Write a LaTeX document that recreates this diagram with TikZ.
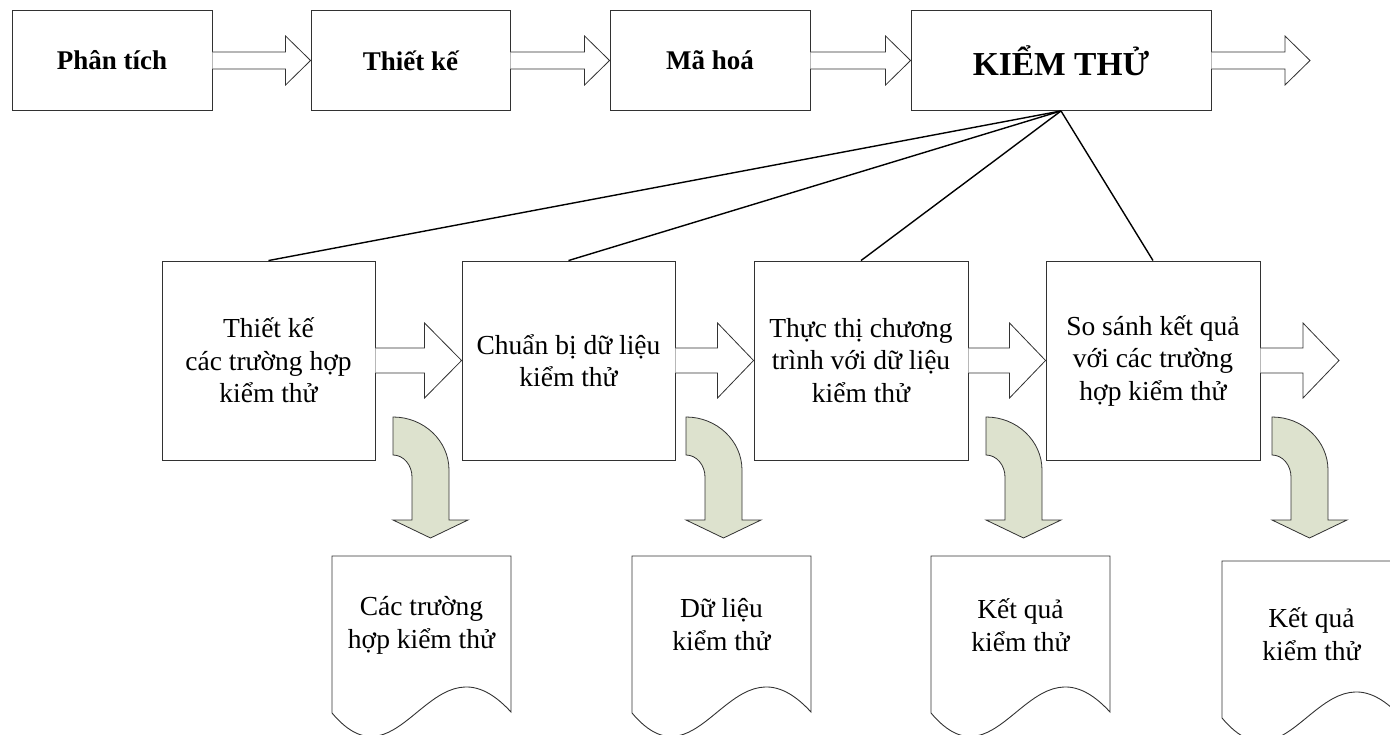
\documentclass[tikz,border=0pt]{standalone}
\usepackage{fontspec}
\setmainfont{Liberation Serif}
\usetikzlibrary{calc}
\definecolor{bendfill}{RGB}{221,226,206}
\definecolor{edge}{RGB}{50,50,50}
\tikzset{
  stage/.style={draw=edge, line width=0.9pt, minimum width=200pt, minimum height=100pt,
    inner sep=0pt, font=\bfseries\fontsize{27}{31}\selectfont},
  task/.style={draw=edge, line width=0.9pt, minimum width=213pt, minimum height=199pt,
    inner sep=0pt, align=center, font=\fontsize{27.5}{32.5}\selectfont},
  fat/.style={draw=edge, line width=0.8pt, fill=white, line join=miter},
  bendarrow/.style={draw=edge, line width=0.8pt, fill=bendfill},
  docshape/.style={draw=edge, line width=0.9pt, fill=white},
  doctext/.style={align=center, inner sep=0pt, font=\fontsize{27.5}{33}\selectfont},
  link/.style={line width=1.4pt, black},
}
% wide outlined arrow from the east side of #1 to the west side of #2
% #3 half shaft height, #4 half head height, #5 head length
\newcommand\fatarrow[5]{%
  \draw[fat] let \p1=(#1.east), \p2=(#2) in
    (\x1,\y1+#3) -- (\x2-#5,\y1+#3) -- (\x2-#5,\y1+#4) -- (\x2,\y1)
    -- (\x2-#5,\y1-#4) -- (\x2-#5,\y1-#3) -- (\x1,\y1-#3);}
% bent arrow turning downwards, top left corner of its tail at #1
\newcommand\downbend[1]{%
  \begin{scope}[shift={(#1)}]
    \draw[bendarrow] (0,0) .. controls (31,0) and (56,24) .. (56,53)
      -- (56,103) -- (75,103) -- (37.5,121) -- (0,103) -- (19,103) -- (19,60)
      .. controls (19,48) and (10.5,38) .. (0,38) -- cycle;
  \end{scope}}
% document sheet with a wavy lower edge, top left corner at #1
\newcommand\docsheet[1]{%
  \begin{scope}[shift={(#1)}]
    \draw[docshape] (0,157) -- (0,0) -- (179,0) -- (179,156)
      .. controls (100,70) and (70,240) .. (0,157);
  \end{scope}}

\begin{document}
\begin{tikzpicture}[x=1pt,y=-1pt]
  \useasboundingbox (0,0) rectangle (1390,735);
  \clip (0,0) rectangle (1390,735);

  % phases of development
  \node[stage] (s1) at (112,60.5) {Phân tích};
  \node[stage, minimum width=199pt] (s2) at (410.5,60.5) {Thiết kế};
  \node[stage] (s3) at (710,60.5) {Mã hoá};
  \node[stage, minimum width=300pt, font=\bfseries\fontsize{33.5}{38}\selectfont] (s4) at (1061,60.5) {KIỂM THỬ};
  \coordinate (s4out) at (1310,60.5);

  \fatarrow{s1}{s2.west}{8.5}{24.5}{25}
  \fatarrow{s2}{s3.west}{8.5}{24.5}{25}
  \fatarrow{s3}{s4.west}{8.5}{24.5}{25}
  \fatarrow{s4}{s4out}{8.5}{24.5}{25}

  % testing steps
  \node[task] (t1) at (268.5,360.5) {Thiết kế\\các trường hợp\\kiểm thử};
  \node[task] (t2) at (568.5,360.5) {Chuẩn bị dữ liệu\\kiểm thử};
  \node[task, minimum width=214pt] (t3) at (861,360.5) {Thực thị chương\\trình với dữ liệu\\kiểm thử};
  \node[task, minimum width=214pt] (t4) at (1153,360.5) {So sánh kết quả\\với các trường\\hợp kiểm thử};
  \coordinate (t4out) at (1339,360.5);

  \fatarrow{t1}{t2.west}{12.5}{37.5}{37}
  \fatarrow{t2}{t3.west}{12.5}{37.5}{36}
  \fatarrow{t3}{t4.west}{12.5}{37.5}{36}
  \fatarrow{t4}{t4out}{12.5}{37.5}{36}

  \draw[link] (s4.south) -- (t1.north);
  \draw[link] (s4.south) -- (t2.north);
  \draw[link] (s4.south) -- (t3.north);
  \draw[link] (s4.south) -- (t4.north);

  % outputs of each step
  \downbend{393,417}
  \downbend{686,417}
  \downbend{986,417}
  \downbend{1272,417}

  \docsheet{332,556}
  \docsheet{632,556}
  \docsheet{931,556}
  \docsheet{1222,561}

  \node[doctext] (d1) at (421.5,625) {Các trường\\hợp kiểm thử};
  \node[doctext] (d2) at (721.5,625) {Dữ liệu\\kiểm thử};
  \node[doctext] (d3) at (1020.5,625) {Kết quả\\kiểm thử};
  \node[doctext] (d4) at (1311.5,634) {Kết quả\\kiểm thử};
\end{tikzpicture}
\end{document}
